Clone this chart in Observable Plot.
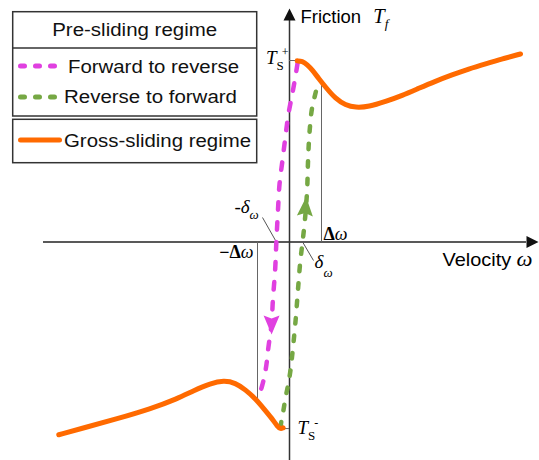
<!DOCTYPE html>
<html><head><meta charset="utf-8">
<script src="https://cdn.jsdelivr.net/npm/d3@7"></script>
<script src="https://cdn.jsdelivr.net/npm/@observablehq/plot@0.6"></script>
<style>
html,body{margin:0;padding:0;background:#fff;}
#wrap{position:relative;width:539px;height:460px;}
#legend{position:absolute;left:0;top:0;pointer-events:none;}
</style></head><body><div id="wrap"></div>
<script>
// ---- data (velocity in units of Δω, friction in units of T_s+) ----
const grossRightV = [0.24, 0.40, 0.55, 0.71, 0.92, 1.13, 1.44, 1.75, 2.06, 2.48, 3.00, 3.52, 4.04, 4.56, 5.08, 5.60, 6.13, 6.65, 7.22];
const grossRightT = [0.998, 0.996, 0.978, 0.949, 0.899, 0.853, 0.789, 0.754, 0.740, 0.745, 0.774, 0.807, 0.847, 0.886, 0.921, 0.954, 0.982, 1.009, 1.036];
const grossLeftV = [-7.21, -6.43, -5.39, -4.34, -3.51, -2.99, -2.47, -2.05, -1.69, -1.375, -1.06, -0.80, -0.54, -0.38, -0.28, -0.20];
const grossLeftT = [-1.062, -1.024, -0.974, -0.919, -0.864, -0.818, -0.779, -0.763, -0.776, -0.814, -0.864, -0.919, -0.974, -1.016, -1.030, -1.024];
const fwdV = [0.25, 0.19, 0.09, -0.03, -0.13, -0.22, -0.31, -0.36, -0.41, -0.45, -0.52, -0.56, -0.66, -0.75, -0.88, -0.97];
const fwdT = [0.983, 0.917, 0.818, 0.708, 0.576, 0.449, 0.322, 0.174, 0.003, -0.157, -0.322, -0.449, -0.581, -0.708, -0.807, -0.851];
const revV = [-0.28, -0.25, -0.19, -0.13, -0.06, 0.03, 0.09, 0.19, 0.28, 0.34, 0.41, 0.48, 0.55, 0.58, 0.63, 0.72, 0.81, 0.88];
const revT = [-1.022, -0.983, -0.928, -0.862, -0.802, -0.708, -0.614, -0.433, -0.229, -0.102, 0.003, 0.118, 0.284, 0.449, 0.614, 0.752, 0.818, 0.870];
const fwdArrow = [-0.56, -0.455];
const revArrow = [0.50, 0.193];
const TsPlus = 1.0, TsMinus = -1.028;
const deltaOmega = [-1, 1];
const deltaOmegaTop = [-0.868, 0.872];
const deltaSmall = [-0.41, 0.41];
const leaderEnd = [[-0.844, 0.135], [0.75, -0.102]];
const axisV = [-7.6875, 7.406];
const axisT = [-1.2039, 1.2204];
const legendLabels = ["Pre-sliding regime", "Forward to reverse", "Reverse to forward", "Gross-sliding regime"];

const ORANGE = "#ff6a00", MAGENTA = "#e040e0", GREEN = "#76a844";

const pts = (vs, ts) => vs.map((v, i) => ({v, t: ts[i]}));

const axisHead = {draw(ctx) { ctx.moveTo(0, -12); ctx.lineTo(6, 0); ctx.lineTo(-6, 0); ctx.closePath(); }};
const curveHead = {draw(ctx) { ctx.moveTo(0, -10); ctx.lineTo(8, 9); ctx.lineTo(0, 6); ctx.lineTo(-8, 9); ctx.closePath(); }};

const serif = "Liberation Serif", sans = "Liberation Sans";
const plot = Plot.plot({
  width: 539, height: 460, margin: 0,
  x: {domain: [-9.03125, 7.8125], axis: null},
  y: {domain: [-1.2039, 1.3306], axis: null},
  style: {fontFamily: sans, background: "white"},
  marks: [
    Plot.ruleY([0], {x1: axisV[0], x2: axisV[1], stroke: "#222", strokeWidth: 1.5}),
    Plot.ruleX([0], {y1: axisT[0], y2: axisT[1], stroke: "#333", strokeWidth: 1.5}),
    Plot.dot([{v: axisV[1], t: 0}], {x: "v", y: "t", symbol: axisHead, fill: "#111", stroke: "none", rotate: 90}),
    Plot.dot([{v: 0, t: axisT[1]}], {x: "v", y: "t", symbol: axisHead, fill: "#111", stroke: "none"}),
    Plot.ruleX(deltaOmega, {x: d => d, y1: 0, y2: (d, i) => deltaOmegaTop[i], stroke: "#666", strokeWidth: 1}),
    Plot.ruleY([TsPlus], {x1: 0, x2: grossRightV[0], stroke: "#666", strokeWidth: 1}),
    Plot.ruleY([TsMinus], {x1: revV[0], x2: 0, stroke: "#666", strokeWidth: 1}),
    Plot.link(deltaSmall, {x1: d => d, y1: 0, x2: (d, i) => leaderEnd[i][0], y2: (d, i) => leaderEnd[i][1], stroke: "#555", strokeWidth: 1}),
    Plot.line(pts(fwdV, fwdT), {x: "v", y: "t", stroke: MAGENTA, strokeWidth: 4.5, strokeDasharray: "7.5 12.5", strokeLinecap: "round", curve: "monotone-y"}),
    Plot.line(pts(revV, revT), {x: "v", y: "t", stroke: GREEN, strokeWidth: 4.5, strokeDasharray: "5.5 12", strokeLinecap: "round", curve: "monotone-y"}),
    Plot.dot([{v: fwdArrow[0], t: fwdArrow[1]}], {x: "v", y: "t", symbol: curveHead, fill: MAGENTA, stroke: "none", rotate: 180}),
    Plot.dot([{v: revArrow[0], t: revArrow[1]}], {x: "v", y: "t", symbol: curveHead, fill: GREEN, stroke: "none", rotate: 4}),
    Plot.line(pts(grossLeftV, grossLeftT), {x: "v", y: "t", stroke: ORANGE, strokeWidth: 5, strokeLinecap: "round", curve: "basis"}),
    Plot.line(pts(grossRightV, grossRightT), {x: "v", y: "t", stroke: ORANGE, strokeWidth: 5, strokeLinecap: "round", curve: "basis"}),
    Plot.text(["Friction Tf"], {x: 0, y: axisT[1], text: d => d, textAnchor: "start", dx: 11, dy: -3.6, fontSize: 18, fontFamily: sans}),
    Plot.text(["Velocity ω"], {x: axisV[1], y: 0, text: d => d, textAnchor: "end", dx: 6, dy: 18, fontSize: 18.5, fontFamily: sans}),
    Plot.text(["Ts+"], {x: 0, y: TsPlus, text: d => d, textAnchor: "end", dx: -1, dy: -3, fontSize: 19, fontFamily: serif}),
    Plot.text(["Ts-"], {x: 0, y: TsMinus, text: d => d, textAnchor: "start", dx: 8, dy: -1, fontSize: 19, fontFamily: serif}),
    Plot.text(["Δω"], {x: deltaOmega[1], y: 0, text: d => d, textAnchor: "start", dx: 2, dy: -7.3, fontSize: 18, fontFamily: serif}),
    Plot.text(["−Δω"], {x: deltaOmega[0], y: 0, text: d => d, textAnchor: "end", dx: -4, dy: 10.7, fontSize: 18, fontFamily: serif}),
    Plot.text(["-δω"], {x: deltaSmall[0], y: 0, text: d => d, textAnchor: "start", dx: -42, dy: -34.6, fontSize: 19, fontFamily: serif}),
    Plot.text(["δω"], {x: deltaSmall[1], y: 0, text: d => d, textAnchor: "start", dx: 12, dy: 20.4, fontSize: 19, fontFamily: serif})
  ]
});

const rich = {
  "Friction Tf": 'Friction<tspan font-family="Liberation Serif" font-style="italic" font-size="20" dx="12">T</tspan><tspan font-family="Liberation Serif" font-style="italic" font-size="13" dx="0" dy="5">f</tspan>',
  "Velocity ω": 'Velocity<tspan font-family="Liberation Serif" font-style="italic" font-size="21" dx="5">ω</tspan>',
  "Ts+": '<tspan font-style="italic">T</tspan><tspan font-size="13" dx="0" dy="6">S</tspan><tspan font-size="12" dx="-2" dy="-14">+</tspan>',
  "Ts-": '<tspan font-style="italic">T</tspan><tspan font-size="13" dx="0" dy="6">S</tspan><tspan font-size="12" dx="-1" dy="-13">-</tspan>',
  "Δω": '<tspan font-weight="bold">Δ</tspan><tspan font-style="italic">ω</tspan>',
  "−Δω": '<tspan font-weight="bold">−Δ</tspan><tspan font-style="italic">ω</tspan>',
  "-δω": '-<tspan font-style="italic">δ</tspan><tspan font-style="italic" font-size="13" dx="0" dy="6">ω</tspan>',
  "δω": '<tspan font-style="italic">δ</tspan><tspan font-style="italic" font-size="13" dx="0" dy="9">ω</tspan>'
};
plot.querySelectorAll("text").forEach(t => {
  const k = t.textContent, h = rich[k];
  if (h) t.innerHTML = h;
  if (k === "Velocity ω") { t.setAttribute("textLength", 90); t.setAttribute("lengthAdjust", "spacingAndGlyphs"); }
  if (k === "Friction Tf") { t.setAttribute("textLength", 88); t.setAttribute("lengthAdjust", "spacingAndGlyphs"); }
});

const wrap = document.getElementById("wrap");
wrap.appendChild(plot);

// ---- legend overlay ----
const leg = d3.create("svg").attr("id", "legend").attr("width", 270).attr("height", 170)
  .style("font-family", sans).style("font-size", "17.5px");
leg.append("rect").attr("x", 12.7).attr("y", 11.7).attr("width", 244).attr("height", 104.3).attr("fill", "white").attr("stroke", "#333").attr("stroke-width", 1.5);
leg.append("line").attr("x1", 12.7).attr("x2", 256.7).attr("y1", 48).attr("y2", 48).attr("stroke", "#333").attr("stroke-width", 1.5);
leg.append("rect").attr("x", 12.7).attr("y", 119.3).attr("width", 244).attr("height", 43.4).attr("fill", "white").attr("stroke", "#333").attr("stroke-width", 1.5);
const legRows = [
  {label: legendLabels[0], x: 134.7, y: 36, anchor: "middle", len: 165},
  {label: legendLabels[1], x: 68, y: 73, anchor: "start", len: 171, color: MAGENTA, dash: "4 11", ly: 66},
  {label: legendLabels[2], x: 64, y: 103, anchor: "start", len: 173, color: GREEN, dash: "4 11", ly: 97},
  {label: legendLabels[3], x: 64, y: 147, anchor: "start", len: 187, color: ORANGE, dash: null, ly: 140}
];
legRows.forEach(r => {
  if (r.color) {
    leg.append("line").attr("x1", 20.5).attr("x2", r.dash ? 56 : 59.5).attr("y1", r.ly).attr("y2", r.ly)
      .attr("stroke", r.color).attr("stroke-width", 5).attr("stroke-linecap", "round")
      .attr("stroke-dasharray", r.dash);
  }
  leg.append("text").attr("x", r.x).attr("y", r.y).attr("text-anchor", r.anchor)
    .attr("textLength", r.len).attr("lengthAdjust", "spacingAndGlyphs").attr("fill", "#111").text(r.label);
});
wrap.appendChild(leg.node());
</script></body></html>
